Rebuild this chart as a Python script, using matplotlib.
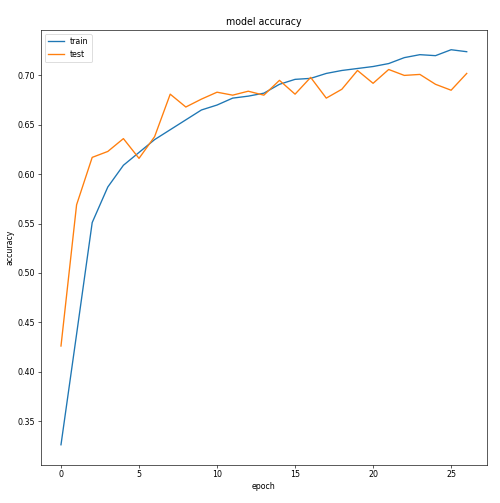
import matplotlib
matplotlib.use("Agg")
import matplotlib.pyplot as plt

epochs = list(range(27))
train_acc = [0.326, 0.438, 0.551, 0.587, 0.609, 0.622, 0.635, 0.645, 0.655, 0.665, 0.670,
             0.677, 0.679, 0.682, 0.691, 0.696, 0.697, 0.702, 0.705, 0.707, 0.709,
             0.712, 0.718, 0.721, 0.720, 0.726, 0.724]
test_acc = [0.426, 0.569, 0.617, 0.623, 0.636, 0.616, 0.638, 0.681, 0.668, 0.676, 0.683,
            0.680, 0.684, 0.680, 0.695, 0.681, 0.698, 0.677, 0.686, 0.705, 0.692,
            0.706, 0.700, 0.701, 0.691, 0.685, 0.702]

DPI = 57
fig = plt.figure(figsize=(500 / DPI, 503 / DPI), dpi=DPI)
ax = fig.add_axes([0.0814, 0.0765, 0.974 - 0.0814, 0.9404 - 0.0765])
ax.plot(epochs, train_acc, label="train", linewidth=1.7)
ax.plot(epochs, test_acc, label="test", linewidth=1.7)
ax.set_title("model accuracy")
ax.set_xlabel("epoch")
ax.set_ylabel("accuracy")
ax.legend(loc="upper left")
fig.savefig("out.png", dpi=DPI)
